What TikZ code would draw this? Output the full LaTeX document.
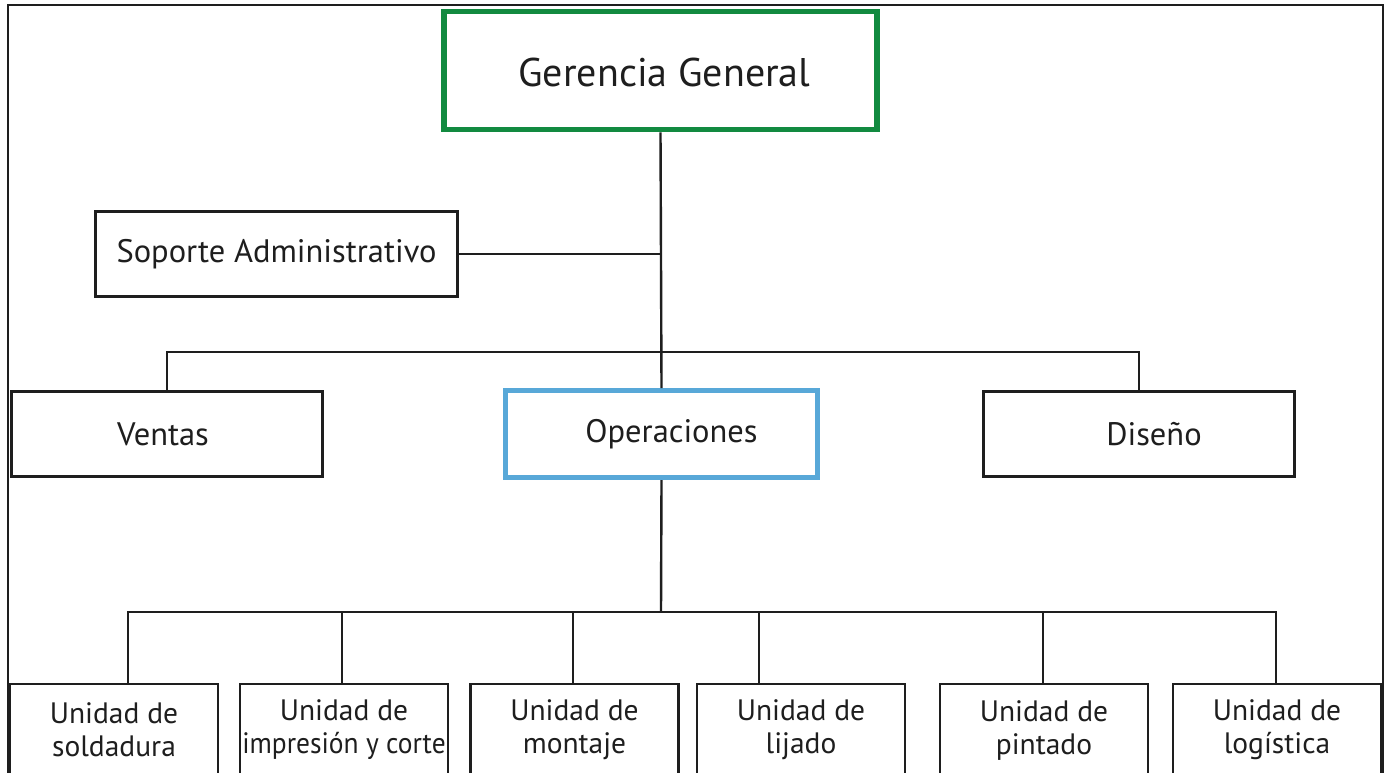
\documentclass[tikz,border=0pt]{standalone}
\usepackage{graphicx}
\usepackage{fontspec}
\setmainfont{PT Sans}
\definecolor{ggreen}{RGB}{18,138,64}
\definecolor{oblue}{RGB}{88,168,216}
\definecolor{ink}{RGB}{30,30,30}
\begin{document}
\begin{tikzpicture}[x=1pt,y=-1pt,
  box/.style={draw=ink,line width=2.8pt,rectangle,inner sep=0pt,align=center,text=ink,font=\fontsize{32.5}{38}\selectfont},
  txt/.style={inner sep=0pt,text=ink,font=\fontsize{32.5}{38}\selectfont},
  unit/.style={box,minimum width=208pt,minimum height=92pt,font=\fontsize{29.5}{33}\selectfont},
  conn/.style={draw=ink,line width=2.4pt}]
\useasboundingbox (0,0) rectangle (1389,772);
\clip (0,0) rectangle (1389,772);
\fill[white] (0,0) rectangle (1389,772);
% outer frame
\draw[ink,line width=2.8pt] (8,800) -- (8,5) -- (1383,5) -- (1383,800);
% top level
\node[box,draw=ggreen,line width=5.5pt,minimum width=433pt,minimum height=118pt] (gg) at (660.5,70.5) {};
\node[txt,font=\fontsize{40}{46}\selectfont] (ggt) at ([xshift=4pt,yshift=-2pt]gg.center) {Gerencia General};
\node[box,minimum width=362pt,minimum height=85.5pt] (sa) at (276.5,254) {Soporte Administrativo};
\node[box,minimum width=311pt,minimum height=85.5pt] (ve) at (167,434) {};
\node[txt] (vet) at ([xshift=-4pt]ve.center) {Ventas};
\node[box,draw=oblue,line width=5pt,minimum width=312pt,minimum height=87pt] (op) at (661.5,434) {};
\node[txt] (opt) at ([xshift=10pt]op.center) {Operaciones};
\node[box,minimum width=311pt,minimum height=85.5pt] (di) at (1139,434) {};
\node[txt] (dit) at ([xshift=15pt]di.center) {Diseño};
% units
\node[unit] (u1) at (114,730) {Unidad de\\soldadura};
\node[unit] (u2) at (344,730) {Unidad de\\\scalebox{0.93}[1]{impresión y corte}};
\node[unit] (u3) at (574.5,730) {Unidad de\\montaje};
\node[unit] (u4) at (801,730) {Unidad de\\lijado};
\node[unit] (u5) at (1044,730) {Unidad de\\pintado};
\node[unit] (u6) at (1277,730) {Unidad de\\logística};
% connectors
\coordinate (b1) at (661,352);
\coordinate (b2) at (661,612);
\coordinate (t1) at (128,612);
\coordinate (t2) at (342,612);
\coordinate (t3) at (573,612);
\coordinate (t4) at (759,612);
\coordinate (t5) at (1043,612);
\coordinate (t6) at (1276,612);
\path[conn] (gg.south) -- (op.north);
\path[conn] (sa.east) -- (sa.east -| gg.south);
\path[conn] (ve.north) |- (b1) -| (di.north);
\path[conn] (op.south) -- (b2);
\path[conn] (t1 |- u1.north) -- (t1) -- (t6) -- (t6 |- u6.north);
\path[conn] (t2) -- (t2 |- u2.north);
\path[conn] (t3) -- (t3 |- u3.north);
\path[conn] (t4) -- (t4 |- u4.north);
\path[conn] (t5) -- (t5 |- u5.north);
\end{tikzpicture}
\end{document}
